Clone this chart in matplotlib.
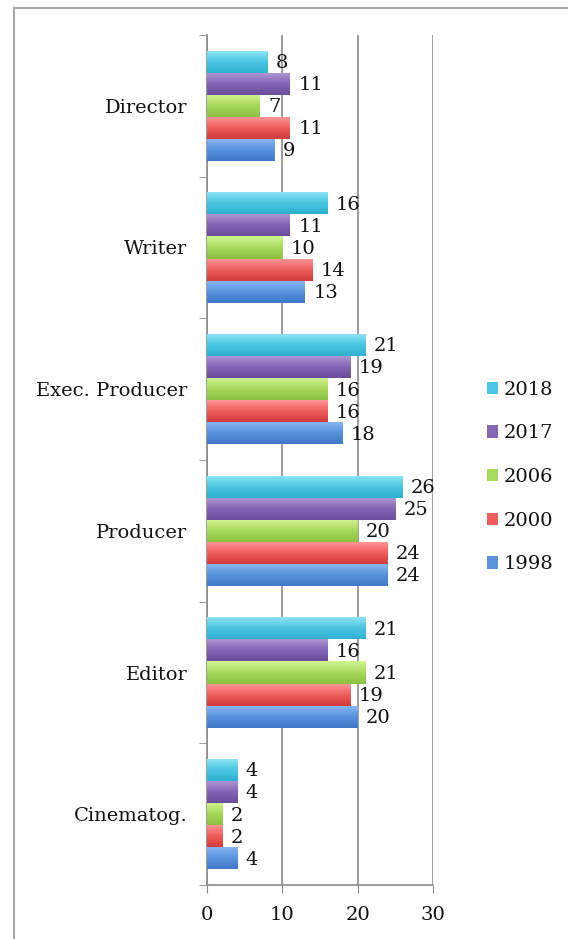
import matplotlib
matplotlib.use("Agg")
import matplotlib.pyplot as plt
import numpy as np
from matplotlib.colors import LinearSegmentedColormap
from matplotlib.patches import Rectangle

categories = ["Director", "Writer", "Exec. Producer", "Producer", "Editor", "Cinematog."]
years = ["2018", "2017", "2006", "2000", "1998"]
values = {
    "2018": [8, 16, 21, 26, 21, 4],
    "2017": [11, 11, 19, 25, 16, 4],
    "2006": [7, 10, 16, 20, 21, 2],
    "2000": [11, 14, 16, 24, 19, 2],
    "1998": [9, 13, 18, 24, 20, 4],
}
xticks = [0, 10, 20, 30]

# (top colour, bottom colour) for vertical gradient
grad = {
    "2018": ("#93e6f6", "#2fb0d0"),
    "2017": ("#b09ad8", "#6a4c9c"),
    "2006": ("#d0f590", "#8cc040"),
    "2000": ("#ff9a9a", "#d23c3c"),
    "1998": ("#8ab8f4", "#3f78c8"),
}
mid = {
    "2018": "#4cc6e2",
    "2017": "#8466b4",
    "2006": "#a8d85e",
    "2000": "#ee5e5e",
    "1998": "#5a92dc",
}

plt.rcParams["font.family"] = ["DejaVu Serif"]
FS = 14
TC = "#111111"

fig = plt.figure(figsize=(5.68, 9.39), dpi=100)
ax = fig.add_axes([207/568, 1-885/939, (433-207)/568, (885-35)/939])

n = len(categories)
nb = len(years)
bh = 0.156
ycenters = np.arange(n)
for i, yr in enumerate(years):
    offs = (i - (nb-1)/2) * bh
    ys = ycenters + offs
    bars = ax.barh(ys, values[yr], height=bh, color=mid[yr], linewidth=0, zorder=3)
    cmap = LinearSegmentedColormap.from_list(yr, [grad[yr][0], mid[yr], grad[yr][1]])
    for b, v in zip(bars, values[yr]):
        x0, y0 = b.get_x(), b.get_y()
        w, h = b.get_width(), b.get_height()
        img = ax.imshow(np.linspace(0, 1, 64).reshape(-1, 1), cmap=cmap, aspect="auto",
                        extent=(x0, x0 + w, y0 + h, y0), origin="upper", zorder=3.5,
                        interpolation="bilinear")
        img.set_clip_path(b)
        ax.text(v + 1.1, y0 + h/2 + 0.01, str(v), va="center", ha="left", fontsize=FS, color=TC, zorder=5)

ax.set_xlim(0, 30)
ax.set_ylim(n - 0.5, -0.5)
ax.set_xticks(xticks)
ax.set_xticklabels([str(t) for t in xticks], fontsize=FS, color=TC)
ax.set_yticks(ycenters)
ax.set_yticklabels(categories, fontsize=FS, color=TC)
ax.set_yticks(np.arange(-0.5, n, 1.0), minor=True)
ax.tick_params(axis="y", which="major", length=0, pad=14)
ax.tick_params(axis="y", which="minor", length=6, color="#888888", direction="out")
ax.tick_params(axis="x", length=6, color="#888888", direction="out", pad=9)
ax.grid(axis="x", color="#8c8c8c", linewidth=1.2, zorder=0)
for s in ["top", "right"]:
    ax.spines[s].set_visible(False)
for s in ["left", "bottom"]:
    ax.spines[s].set_color("#8c8c8c")
    ax.spines[s].set_linewidth(1.2)

# legend
handles = [Rectangle((0, 0), 1, 1, facecolor=mid[yr], edgecolor="none") for yr in years]
leg = fig.legend(handles, years, loc="center left", bbox_to_anchor=(479/568, 1-477/939),
                 frameon=False, fontsize=FS, handlelength=0.6, handleheight=0.6,
                 handletextpad=0.25, labelspacing=1.32, borderaxespad=0)
for t in leg.get_texts():
    t.set_color(TC)

# outer frame
fig.add_artist(Rectangle((14/568, -0.1), 1.2, (1-8/939)+0.1, transform=fig.transFigure,
                         fill=False, edgecolor="#a8a8a8", linewidth=1.5))

fig.savefig("out.png", dpi=100, facecolor="white")
